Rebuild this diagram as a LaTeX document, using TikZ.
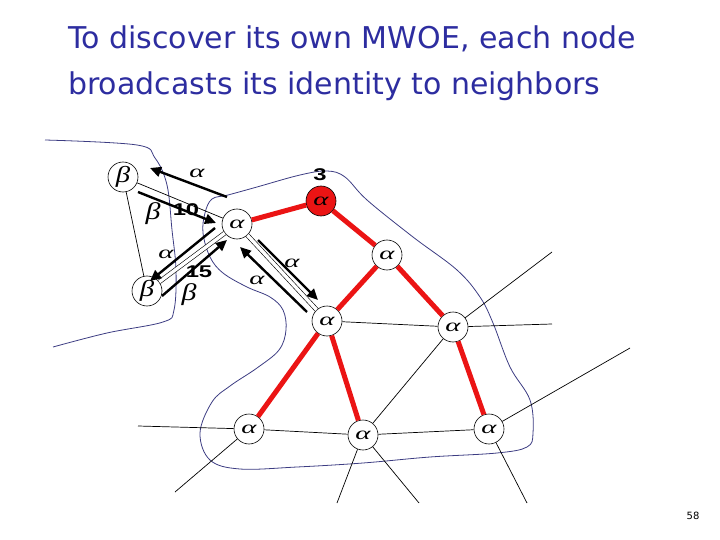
\documentclass[tikz,border=0pt]{standalone}
\usepackage{fontspec}
\setmainfont{DejaVu Sans}
\newfontfamily\numfont{Liberation Sans}
\newfontfamily\grk{Liberation Serif}
\newcommand\myal{\scalebox{1.6}[1]{\grk\itshape α}}
\newcommand\mybe{\scalebox{1.25}[1]{\grk\itshape β}}
\newcommand\mynum[1]{\scalebox{1.4}[1]{#1}}
\usetikzlibrary{arrows.meta}
\definecolor{ttl}{RGB}{45,45,160}
\definecolor{blob}{RGB}{60,60,130}
\definecolor{tree}{RGB}{235,20,20}
\tikzset{
  vtx/.style={circle,draw,line width=0.6pt,minimum size=30pt,inner sep=0pt,fill=white,font=\fontsize{18}{18}\selectfont},
  bvtx/.style={vtx,font=\fontsize{23}{23}\selectfont},
  rvtx/.style={vtx,fill=tree},
  thin edge/.style={line width=0.7pt},
  dbl edge/.style={line width=0.6pt,double,double distance=3.4pt},
  red edge/.style={line width=5pt,tree},
  msg/.style={line width=2.4pt,-{Triangle[length=11pt,width=10pt]}},
  lbl/.style={inner sep=0pt,font=\fontsize{18}{18}\selectfont},
  blbl/.style={inner sep=0pt,font=\fontsize{24}{24}\selectfont},
  num/.style={inner sep=0pt,font=\numfont\bfseries\fontsize{17}{17}\selectfont},
  outline/.style={blob,line width=0.8pt},
  ttlnode/.style={anchor=base west,inner sep=0pt,text=ttl,font=\fontsize{30}{30}\selectfont},
}
\begin{document}
\begin{tikzpicture}[x=1pt,y=-1pt]
\useasboundingbox (0,0) rectangle (720,540);
% title
\node[ttlnode] (t1) at (68,49) {To discover its own MWOE, each node};
\node[ttlnode] (t2) at (68,95) {broadcasts its identity to neighbors};
\node[inner sep=0pt,font=\fontsize{10}{10}\selectfont] (pg) at (693,516) {58};
% outline curves
\draw[outline] plot[smooth,tension=0.6] coordinates {(45,140) (137,145) (155,158) (167,185) (172,230) (176,270) (174,310) (163,322) (107,333) (53,347)};
\draw[outline] plot[smooth cycle,tension=0.6] coordinates {(200,433) (210,460) (240,469) (297,467) (363,463) (430,457) (497,453) (527,447) (533,433) (530,400) (510,367) (493,323) (480,297) (457,270) (413,237) (367,200) (345,177) (327,171) (300,175) (257,187) (228,195) (212,199) (205,213) (203,233) (210,257) (223,273) (247,287) (270,297) (283,310) (286,330) (279,350) (257,368) (230,386) (212,402)};
% free ends
\coordinate (e1) at (552,252);
\coordinate (e2) at (552,324);
\coordinate (e3) at (138,426);
\coordinate (e4) at (175,492);
\coordinate (e5) at (337,503);
\coordinate (e6) at (419,503);
\coordinate (e7) at (527,503);
\coordinate (e8) at (630,348);
% nodes
\node[bvtx] (b1) at (123,177) {\mybe};
\node[bvtx] (b2) at (147,291) {\mybe};
\node[vtx] (a1) at (237,224) {\raisebox{-6pt}{\myal}};
\node[rvtx] (r) at (321,201) {\myal};
\node[vtx] (a2) at (387,255) {\myal};
\node[vtx] (a3) at (327,321) {\myal};
\node[vtx] (a4) at (453,327) {\myal};
\node[vtx] (a5) at (249,429) {\myal};
\node[vtx] (a6) at (363,435) {\myal};
\node[vtx] (a7) at (489,429) {\myal};
% edges
\draw[thin edge] (b1) -- (a1);
\draw[thin edge] (b1) -- (b2);
\draw[dbl edge] (b2) -- (a1);
\draw[dbl edge] (a1) -- (a3);
\draw[thin edge] (a3) -- (a4);
\draw[thin edge] (a5) -- (a6);
\draw[thin edge] (a6) -- (a7);
\draw[thin edge] (a4) -- (a6);
\draw[thin edge] (a4) -- (e1);
\draw[thin edge] (a4) -- (e2);
\draw[thin edge] (a5) -- (e3);
\draw[thin edge] (a5) -- (e4);
\draw[thin edge] (a6) -- (e5);
\draw[thin edge] (a6) -- (e6);
\draw[thin edge] (a7) -- (e7);
\draw[thin edge] (a7) -- (e8);
\draw[red edge] (a1) -- (r);
\draw[red edge] (r) -- (a2);
\draw[red edge] (a2) -- (a3);
\draw[red edge] (a2) -- (a4);
\draw[red edge] (a3) -- (a5);
\draw[red edge] (a3) -- (a6);
\draw[red edge] (a4) -- (a7);
% message arrows
\coordinate (m1s) at (227,197); \coordinate (m1e) at (150,168);
\coordinate (m2s) at (138,192); \coordinate (m2e) at (216,223);
\coordinate (m3s) at (215,228); \coordinate (m3e) at (150,281);
\coordinate (m4s) at (162,296); \coordinate (m4e) at (227,240);
\coordinate (m5s) at (258,240); \coordinate (m5e) at (318,300);
\coordinate (m6s) at (307,312); \coordinate (m6e) at (240,247);
\draw[msg] (m1s) -- (m1e);
\draw[msg] (m2s) -- (m2e);
\draw[msg] (m3s) -- (m3e);
\draw[msg] (m4s) -- (m4e);
\draw[msg] (m5s) -- (m5e);
\draw[msg] (m6s) -- (m6e);
% labels
\node[lbl] (l1) at (197,173) {\myal};
\node[blbl] (l2) at (153,214) {\mybe};
\node[num] (l3) at (186,210) {\mynum{10}};
\node[lbl] (l4) at (166,254) {\myal};
\node[num] (l5) at (199,272) {\mynum{15}};
\node[blbl] (l6) at (189,295) {\mybe};
\node[lbl] (l7) at (292,263) {\myal};
\node[lbl] (l8) at (257,280) {\myal};
\node[num] (l9) at (320,175) {\mynum{3}};
\end{tikzpicture}
\end{document}
